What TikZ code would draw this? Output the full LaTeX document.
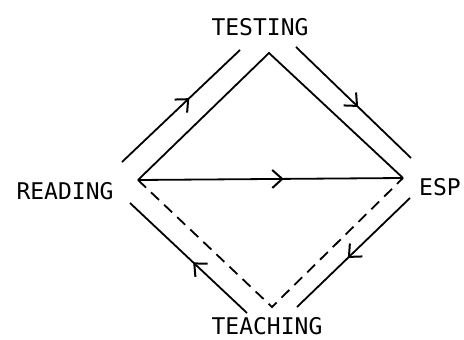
\documentclass[tikz,border=0pt]{standalone}
\usepackage{fontspec}
\setmonofont{DejaVu Sans Mono}
\usetikzlibrary{arrows.meta,decorations.markings}

\begin{document}
\begin{tikzpicture}[
    x=1pt, y=-1pt,
    label/.style={font=\ttfamily\fontsize{23}{27}\selectfont, inner sep=0pt},
    edge/.style={line width=1.8pt},
    dashedge/.style={line width=1.8pt, dash pattern=on 11pt off 7pt},
    midarrow/.style={line width=1.8pt, postaction={decorate}, decoration={markings,
        mark=at position #1 with {\arrow{Straight Barb[length=10pt,width=18pt,line width=2pt]}}}}
]
    \useasboundingbox (0,0) rectangle (464,340);

    % labels
    \node [label] (testing) at (260,27) {TESTING};
    \node [label] (reading) at (65,191) {READING};
    \node [label] (esp) at (440,187) {ESP};
    \node [label, anchor=south] (teaching) at (267,335) {TEACHING};

    % corners of the diamond
    \coordinate (t) at (269,53);
    \coordinate (l) at (138,180);
    \coordinate (r) at (403,178);
    \coordinate (b) at (272,307);

    % ends of the outer paths
    \coordinate (o1) at (122,162);
    \coordinate (o2) at (240,50);
    \coordinate (o3) at (296,47);
    \coordinate (o4) at (411,158);
    \coordinate (o5) at (410,198);
    \coordinate (o6) at (297,307);
    \coordinate (o7) at (247,313);
    \coordinate (o8) at (130,203);

    \draw [edge, line join=miter] (l) -- (t) -- (r);
    \draw [midarrow=0.55] (l) -- (r);
    \draw [dashedge] (l) -- (b) -- (r);

    \draw [midarrow=0.57] (o1) -- (o2);
    \draw [midarrow=0.54] (o3) -- (o4);
    \draw [midarrow=0.55] (o5) -- (o6);
    \draw [midarrow=0.46] (o7) -- (o8);
\end{tikzpicture}
\end{document}
